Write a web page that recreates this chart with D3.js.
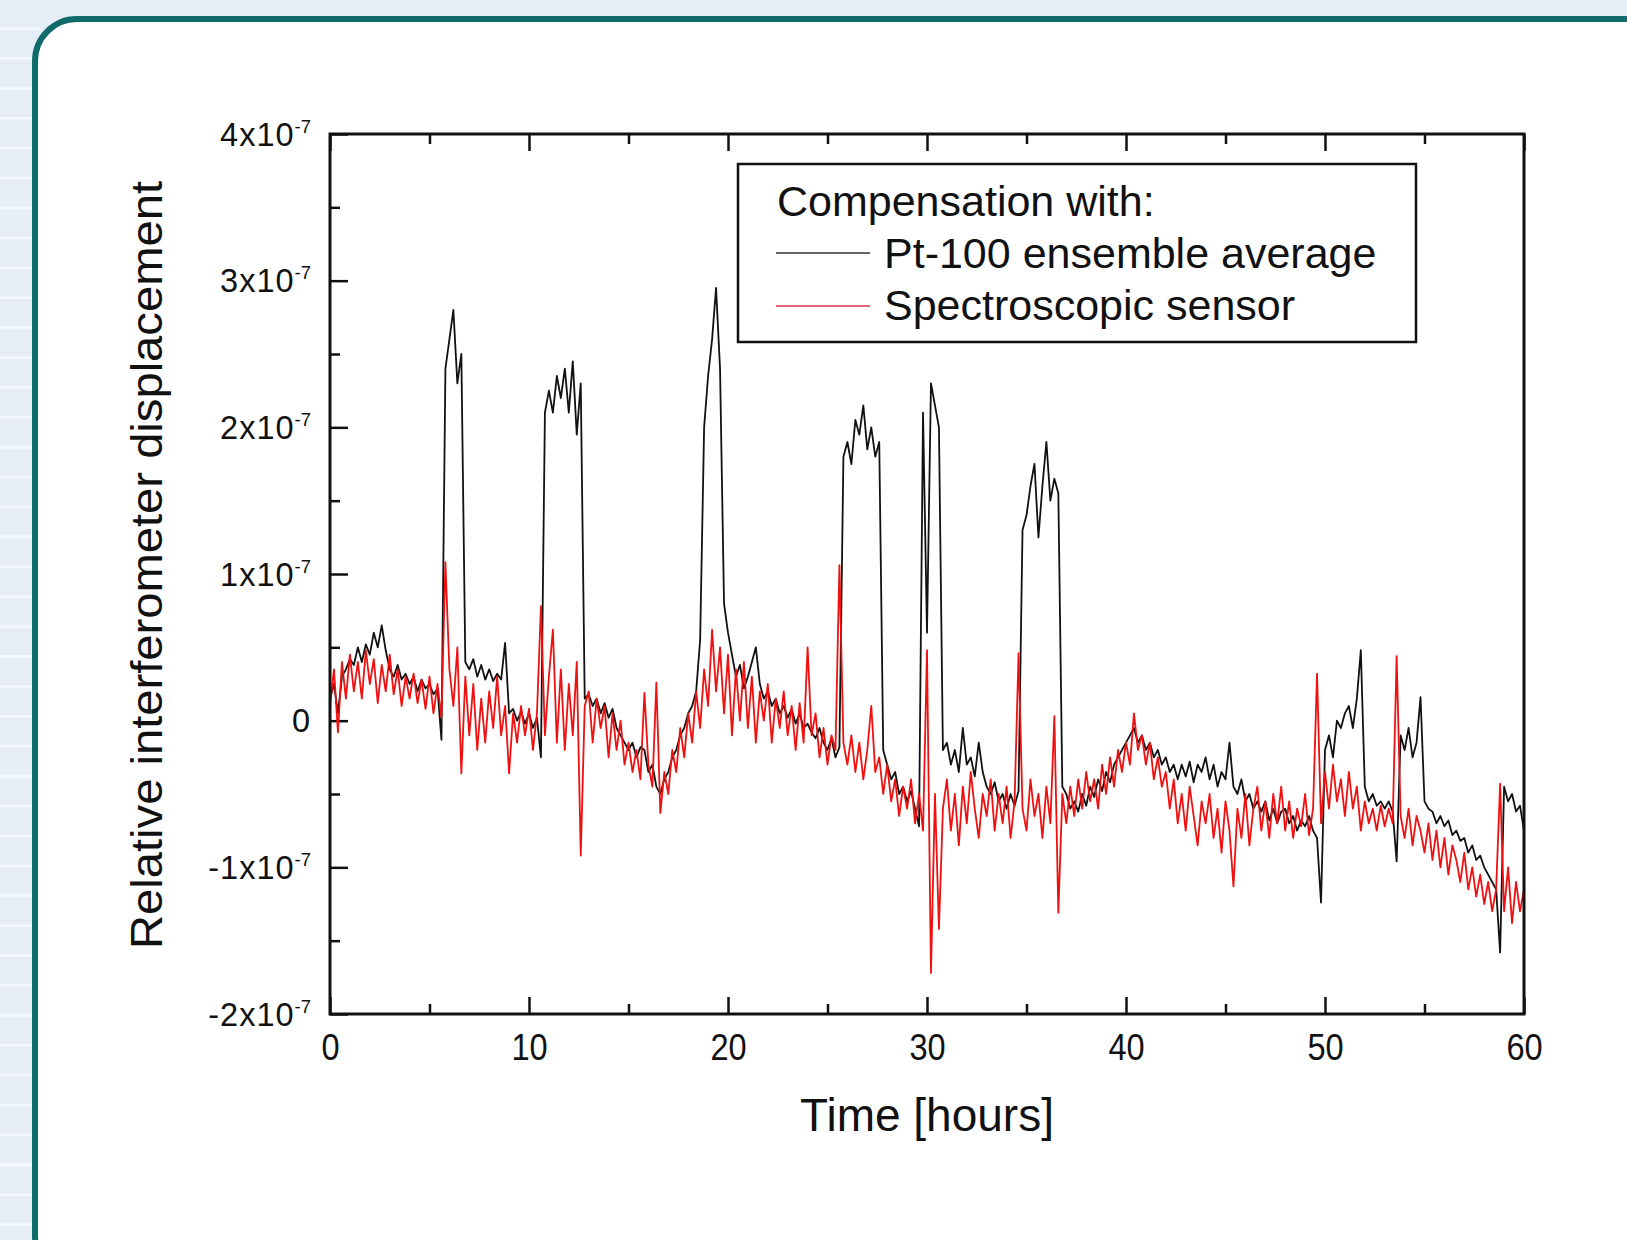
<!DOCTYPE html>
<html><head><meta charset="utf-8">
<script src="https://cdn.jsdelivr.net/npm/d3@7"></script>
<style>
html,body{margin:0;padding:0;background:#e5edf7;}
svg{display:block;}
text{font-family:"Liberation Sans",Arial,sans-serif;fill:#111;}
</style></head><body>
<svg id="chart" width="1627" height="1240"></svg>
<script>
// ---- data (values in units of 1e-7) ----
const timeStep = 0.2; // hours between samples
const xTickValues = [0,10,20,30,40,50,60];
const xMinorTicks = [5,15,25,35,45,55];
const yTickValues = [-2,-1,0,1,2,3,4];
const yMinorTicks = [-1.5,-0.5,0.5,1.5,2.5,3.5];
const yTickLabels = ["-2x10","-1x10","0","1x10","2x10","3x10","4x10"];
const yTickExponent = "-7";
const seriesNames = ["Pt-100 ensemble average","Spectroscopic sensor"];
const legendTitle = "Compensation with:";
const xTitle = "Time [hours]";
const yTitle = "Relative interferometer displacement";

const pt100 = [
0.15,0.25,0.05,0.3,0.35,
0.42,0.38,0.5,0.4,0.52,
0.45,0.6,0.5,0.65,0.48,
0.35,0.3,0.38,0.28,0.32,
0.25,0.3,0.2,0.28,0.22,
0.25,0.18,0.22,-0.13,2.4,
2.6,2.8,2.3,2.5,0.4,
0.35,0.42,0.3,0.38,0.28,
0.35,0.27,0.32,0.28,0.53,
0.05,0.08,0.0,0.06,-0.02,
0.05,-0.05,0.02,-0.25,2.1,
2.25,2.1,2.35,2.2,2.4,
2.1,2.45,1.95,2.3,0.15,
0.18,0.1,0.15,0.05,0.12,
0.02,0.08,-0.05,-0.1,-0.15,
-0.2,-0.15,-0.25,-0.18,-0.2,
-0.35,-0.3,-0.45,-0.5,-0.4,
-0.35,-0.25,-0.2,-0.1,-0.05,
0.05,0.1,0.2,0.55,2.0,
2.35,2.6,2.95,2.4,0.8,
0.6,0.45,0.3,0.38,0.22,
0.3,0.4,0.5,0.25,0.15,
0.2,0.1,0.15,0.05,0.1,
0.02,0.08,-0.02,0.05,-0.05,
-0.02,-0.08,-0.12,-0.05,-0.15,
-0.2,-0.12,-0.25,-0.18,1.8,
1.9,1.75,2.05,1.95,2.15,
1.85,2.0,1.8,1.9,-0.2,
-0.3,-0.4,-0.35,-0.5,-0.45,
-0.55,-0.48,-0.6,-0.72,2.1,
0.6,2.3,2.15,2.0,-0.2,
-0.15,-0.3,-0.2,-0.35,-0.05,
-0.3,-0.25,-0.38,-0.15,-0.35,
-0.45,-0.5,-0.42,-0.55,-0.5,
-0.6,-0.5,-0.58,-0.48,1.3,
1.4,1.6,1.75,1.25,1.6,
1.9,1.5,1.65,1.55,-0.45,
-0.5,-0.6,-0.55,-0.62,-0.5,
-0.58,-0.45,-0.52,-0.4,-0.48,
-0.35,-0.42,-0.3,-0.25,-0.2,
-0.15,-0.1,-0.05,-0.15,-0.1,
-0.2,-0.15,-0.25,-0.2,-0.3,
-0.25,-0.35,-0.3,-0.4,-0.3,
-0.38,-0.28,-0.42,-0.3,-0.35,
-0.25,-0.4,-0.3,-0.45,-0.35,
-0.4,-0.15,-0.45,-0.5,-0.4,
-0.55,-0.5,-0.6,-0.55,-0.62,
-0.55,-0.68,-0.6,-0.7,-0.62,
-0.6,-0.7,-0.65,-0.75,-0.68,
-0.72,-0.65,-0.75,-0.8,-1.24,
-0.2,-0.1,-0.25,0.0,-0.05,
0.05,0.1,-0.05,0.15,0.48,
-0.45,-0.55,-0.5,-0.58,-0.55,
-0.6,-0.55,-0.62,-0.96,-0.1,
-0.2,-0.05,-0.25,-0.15,0.16,
-0.55,-0.6,-0.62,-0.7,-0.65,
-0.72,-0.68,-0.78,-0.75,-0.82,
-0.8,-0.9,-0.85,-0.95,-0.92,
-1.0,-1.05,-1.1,-1.15,-1.58,
-0.45,-0.55,-0.5,-0.62,-0.58,
-0.75
];

const spectro = [
0.1,0.35,-0.08,0.4,0.15,
0.45,0.2,0.4,0.15,0.48,
0.25,0.42,0.12,0.38,0.2,
0.45,0.18,0.35,0.1,0.3,
0.15,0.32,0.12,0.28,0.08,
0.3,0.05,0.25,0.02,1.08,
0.35,0.1,0.5,-0.36,0.3,
-0.1,0.25,-0.2,0.15,-0.15,
0.2,-0.05,0.3,-0.1,0.1,
-0.36,0.05,-0.15,0.1,-0.1,
0.08,-0.2,0.05,0.78,-0.1,
0.3,0.62,-0.15,0.35,-0.2,
0.25,-0.1,0.4,-0.92,0.1,
0.2,-0.15,0.15,-0.05,0.1,
-0.25,0.05,-0.2,0.0,-0.3,
-0.15,-0.35,-0.2,-0.4,0.19,
-0.3,-0.45,0.26,-0.63,-0.35,
-0.5,-0.2,-0.35,-0.05,-0.25,
0.05,-0.15,0.2,-0.05,0.35,
0.1,0.62,0.2,0.5,0.05,
0.45,-0.1,0.35,0.0,0.4,
-0.05,0.3,-0.15,0.2,0.0,
0.25,-0.15,0.15,-0.05,0.2,
-0.1,0.1,-0.2,0.12,-0.15,
0.5,-0.1,0.05,-0.25,-0.05,
-0.3,-0.1,-0.2,1.06,-0.15,
-0.3,-0.1,-0.35,-0.15,-0.4,
-0.2,0.1,-0.35,-0.25,-0.5,
-0.3,-0.55,-0.4,-0.65,-0.45,
-0.6,-0.4,-0.7,-0.5,-0.75,
0.48,-1.72,-0.5,-1.42,-0.6,
-0.4,-0.75,-0.5,-0.85,-0.45,
-0.7,-0.35,-0.6,-0.8,-0.5,
-0.65,-0.4,-0.75,-0.5,-0.7,
-0.45,-0.8,-0.55,0.46,-0.6,
-0.75,-0.4,-0.65,-0.5,-0.8,
-0.45,-0.7,0.03,-1.31,-0.5,
-0.7,-0.45,-0.65,-0.4,-0.6,
-0.35,-0.55,-0.4,-0.6,-0.3,
-0.5,-0.25,-0.45,-0.2,-0.35,
-0.15,-0.3,0.05,-0.2,-0.1,
-0.3,-0.15,-0.4,-0.25,-0.45,
-0.35,-0.6,-0.4,-0.7,-0.5,
-0.75,-0.45,-0.65,-0.85,-0.55,
-0.7,-0.5,-0.8,-0.6,-0.9,
-0.55,-0.75,-1.13,-0.6,-0.8,
-0.5,-0.85,-0.6,-0.45,-0.75,
-0.55,-0.8,-0.5,-0.7,-0.45,
-0.75,-0.55,-0.8,-0.6,-0.72,
-0.5,-0.78,-0.6,0.32,-0.7,
-0.35,-0.6,-0.3,-0.55,-0.4,
-0.65,-0.35,-0.6,-0.45,-0.75,
-0.55,-0.7,-0.6,-0.75,-0.58,
-0.72,-0.6,-0.7,0.44,-0.65,
-0.8,-0.6,-0.85,-0.65,-0.75,
-0.9,-0.7,-0.95,-0.75,-1.0,
-0.8,-1.05,-0.85,-0.95,-1.1,
-0.9,-1.15,-1.0,-1.2,-1.05,
-1.25,-1.1,-1.3,-1.15,-0.43,
-1.3,-1.0,-1.38,-1.1,-1.3,
-1.15
];

// ---- drawing ----
const svg = d3.select("#chart");
const W = 1627, H = 1240;

// background with light stripes on the left
svg.append("rect").attr("width",W).attr("height",H).attr("fill","#e5edf7");
svg.append("g").selectAll("rect").data(d3.range(-1,42)).join("rect")
  .attr("x",0).attr("width",40).attr("y",k=>57+29.9*k).attr("height",3)
  .attr("fill","#f4f8fc");

// panel
svg.append("rect").attr("x",35).attr("y",19).attr("width",1700).attr("height",1258)
  .attr("rx",42).attr("fill","#ffffff").attr("stroke","#0f6a6a").attr("stroke-width",6);

const L=330, R=1524, T=134, B=1014;
const x = d3.scaleLinear().domain([0,60]).range([L,R]);
const y = d3.scaleLinear().domain([-2,4]).range([B,T]);

function styleTicks(a,w){
  a.select(".domain").remove();
  a.selectAll(".tick line").attr("stroke","#111").attr("stroke-width",w);
}
// bottom axis
svg.append("g").attr("transform",`translate(0,${B})`)
  .call(d3.axisBottom(x).tickValues(xTickValues).tickSize(-17).tickFormat(d3.format("d")))
  .call(a=>{styleTicks(a,2.5);
    a.attr("font-family",null).attr("font-size",null);
    a.selectAll(".tick text").attr("y",46).attr("dy",0).attr("font-size",37).attr("fill","#111")
     .each(function(){const n=this.getComputedTextLength(); d3.select(this).attr("textLength",n*0.88).attr("lengthAdjust","spacingAndGlyphs");});
  });
svg.append("g").attr("transform",`translate(0,${B})`)
  .call(d3.axisBottom(x).tickValues(xMinorTicks).tickSize(-10).tickFormat(""))
  .call(a=>styleTicks(a,2.5));
// top axis
svg.append("g").attr("transform",`translate(0,${T})`)
  .call(d3.axisTop(x).tickValues(xTickValues).tickSize(-17).tickFormat(""))
  .call(a=>styleTicks(a,2.5));
svg.append("g").attr("transform",`translate(0,${T})`)
  .call(d3.axisTop(x).tickValues(xMinorTicks).tickSize(-10).tickFormat(""))
  .call(a=>styleTicks(a,2.5));
// left axis
svg.append("g").attr("transform",`translate(${L},0)`)
  .call(d3.axisLeft(y).tickValues(yTickValues).tickSize(-18).tickFormat(""))
  .call(a=>{styleTicks(a,2.5);
    a.attr("font-family",null).attr("font-size",null);
    a.selectAll(".tick text").each(function(d,i){
      const t=d3.select(this).attr("x",-19).attr("y",11).attr("dy",0).attr("font-size",32.5)
        .attr("text-anchor","end").attr("fill","#111").attr("letter-spacing",1);
      t.text(null);
      t.append("tspan").text(yTickLabels[i]);
      if(d!==0) t.append("tspan").attr("font-size",18.5).attr("dy",-13).attr("letter-spacing",0).text(yTickExponent);
    });
  });
svg.append("g").attr("transform",`translate(${L},0)`)
  .call(d3.axisLeft(y).tickValues(yMinorTicks).tickSize(-10).tickFormat(""))
  .call(a=>styleTicks(a,2.5));

// series
const line = d3.line().x((d,i)=>x(i*timeStep)).y(d=>y(d));
svg.append("path").datum(pt100).attr("d",line).attr("fill","none")
  .attr("stroke","#111").attr("stroke-width",1.8).attr("stroke-linejoin","round");
svg.append("path").datum(spectro).attr("d",line).attr("fill","none")
  .attr("stroke","#f01010").attr("stroke-width",1.8).attr("stroke-linejoin","round");

// frame
svg.append("rect").attr("x",L).attr("y",T).attr("width",R-L).attr("height",B-T)
  .attr("fill","none").attr("stroke","#111").attr("stroke-width",3);

// axis titles
svg.append("text").attr("x",(L+R)/2).attr("y",1131).attr("text-anchor","middle")
  .attr("font-size",46).text(xTitle);
svg.append("text").attr("transform",`translate(162,${565}) rotate(-90)`).attr("text-anchor","middle")
  .attr("font-size",44).attr("textLength",768).attr("lengthAdjust","spacingAndGlyphs").text(yTitle);

// legend
const lg = svg.append("g");
lg.append("rect").attr("x",738).attr("y",164).attr("width",678).attr("height",178)
  .attr("fill","#fff").attr("stroke","#111").attr("stroke-width",2.5);
lg.append("text").attr("x",777).attr("y",216).attr("font-size",43).text(legendTitle);
const legendColors = ["#333","#d8304a"];
lg.selectAll("line.k").data(seriesNames).join("line").attr("class","k")
  .attr("x1",776).attr("x2",870).attr("y1",(d,i)=>253+53*i).attr("y2",(d,i)=>253+53*i)
  .attr("stroke",(d,i)=>legendColors[i]).attr("stroke-width",1.6);
lg.selectAll("text.s").data(seriesNames).join("text").attr("class","s")
  .attr("x",884).attr("y",(d,i)=>268+52*i).attr("font-size",43).text(d=>d);
</script>
</body></html>
